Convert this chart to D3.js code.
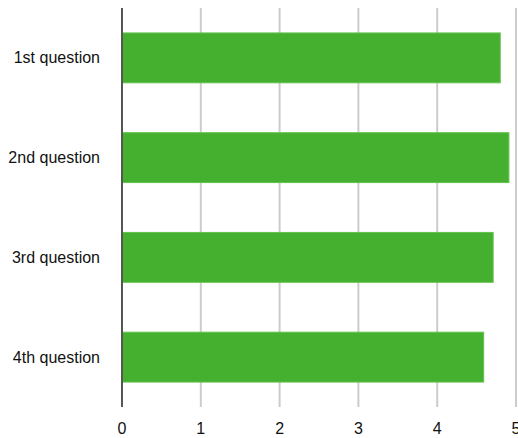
<!DOCTYPE html>
<html>
<head>
<meta charset="utf-8">
<script src="https://cdn.jsdelivr.net/npm/d3@7"></script>
<style>
  body { margin: 0; background: #fff; }
  text { font-family: "Liberation Sans", Arial, sans-serif; font-size: 16px; fill: #111; }
</style>
</head>
<body>
<script>
// chart data
const questions = ['1st question', '2nd question', '3rd question', '4th question'];
const scores = [4.80, 4.91, 4.71, 4.59];
const xTicks = [0, 1, 2, 3, 4, 5];

const margin = {top: 8, right: 2, bottom: 31, left: 122};
const width = 518 - margin.left - margin.right;
const height = 438 - margin.top - margin.bottom;

const svg = d3.select('body').append('svg')
  .attr('width', 518)
  .attr('height', 438);

const g = svg.append('g')
  .attr('transform', `translate(${margin.left},${margin.top})`);

const x = d3.scaleLinear().domain([0, 5]).range([0, 394]);
const y = d3.scaleBand().domain(questions).range([0, height]).paddingInner(0.5).paddingOuter(0.25);

// vertical grid lines
g.selectAll('.grid')
  .data(xTicks.slice(1))
  .enter().append('line')
  .attr('x1', (d) => x(d))
  .attr('x2', (d) => x(d))
  .attr('y1', 0)
  .attr('y2', height)
  .attr('stroke', '#cccccc')
  .attr('stroke-width', 2);

// bars
g.selectAll('.bar')
  .data(questions)
  .enter().append('rect')
  .attr('x', 0)
  .attr('y', (d) => y(d))
  .attr('width', (d, i) => x(scores[i]))
  .attr('height', y.bandwidth())
  .attr('fill', '#45b02f')
  .attr('stroke', '#62c24c')
  .attr('stroke-width', 1);

// y axis line
g.append('line')
  .attr('x1', 0).attr('x2', 0)
  .attr('y1', 0).attr('y2', height)
  .attr('stroke', '#555555')
  .attr('stroke-width', 2);

// category labels
g.selectAll('.cat')
  .data(questions)
  .enter().append('text')
  .attr('x', -22)
  .attr('y', (d) => y(d) + y.bandwidth() / 2)
  .attr('dy', '0.35em')
  .attr('text-anchor', 'end')
  .text((d) => d);

// tick labels
g.selectAll('.tick')
  .data(xTicks)
  .enter().append('text')
  .attr('x', (d) => x(d))
  .attr('y', height + 21)
  .attr('dy', '0.35em')
  .attr('text-anchor', 'middle')
  .text((d) => d);
</script>
</body>
</html>
